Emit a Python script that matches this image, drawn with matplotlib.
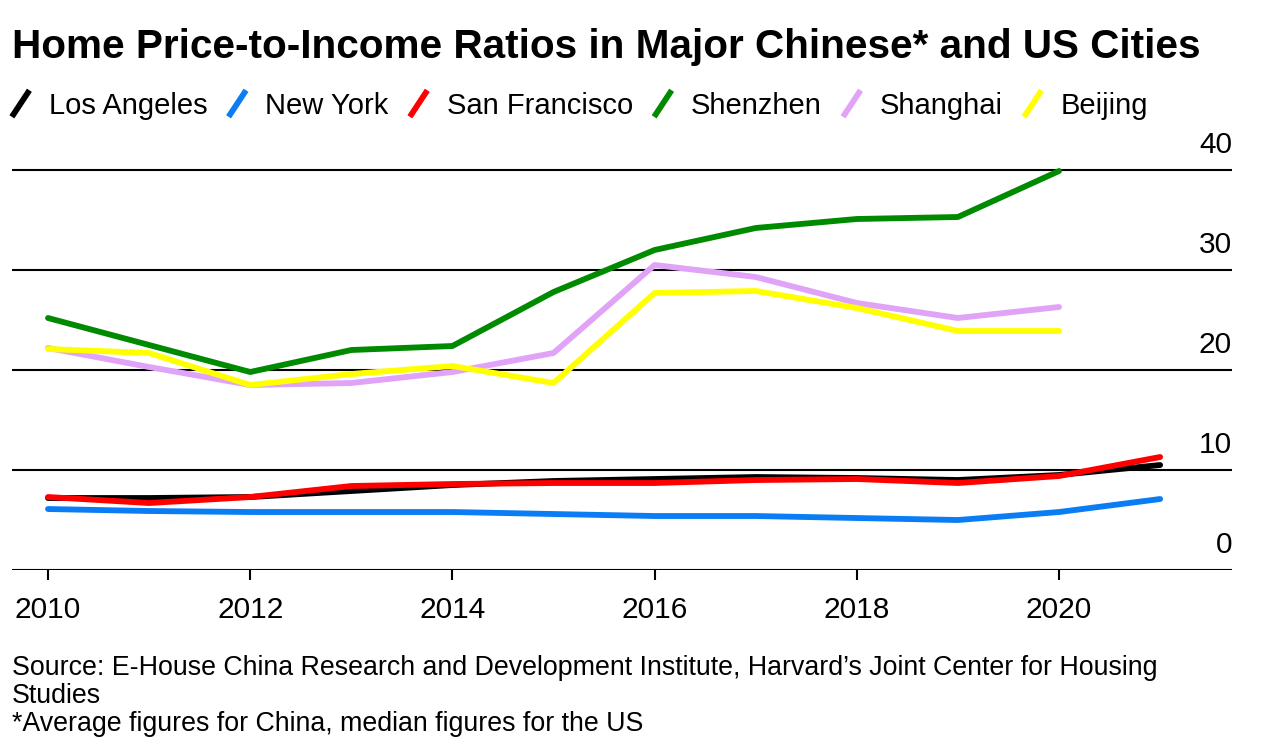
import numpy as np
import matplotlib
matplotlib.use("Agg")
import matplotlib.pyplot as plt
from matplotlib.legend_handler import HandlerLine2D
from matplotlib.lines import Line2D
from matplotlib.transforms import ScaledTranslation

plt.rcParams['font.family'] = ['Liberation Sans', 'DejaVu Sans']

# data
years_us = [2010, 2011, 2012, 2013, 2014, 2015, 2016, 2017, 2018, 2019, 2020, 2021]
years_cn = [2010, 2011, 2012, 2013, 2014, 2015, 2016, 2017, 2018, 2019, 2020]

los_angeles = [7.2, 7.2, 7.3, 7.9, 8.5, 8.9, 9.1, 9.3, 9.2, 9.0, 9.5, 10.5]
new_york = [6.1, 5.9, 5.8, 5.8, 5.8, 5.6, 5.4, 5.4, 5.2, 5.0, 5.8, 7.1]
san_francisco = [7.3, 6.7, 7.3, 8.4, 8.6, 8.7, 8.7, 9.0, 9.1, 8.7, 9.4, 11.3]
shenzhen = [25.2, 22.5, 19.8, 22.0, 22.4, 27.8, 32.0, 34.2, 35.1, 35.3, 39.9]
shanghai = [22.2, 20.3, 18.5, 18.7, 19.8, 21.7, 30.5, 29.3, 26.7, 25.2, 26.3]
beijing = [22.1, 21.7, 18.5, 19.6, 20.4, 18.7, 27.7, 27.9, 26.2, 23.9, 23.9]

yticks = [0, 10, 20, 30, 40]
xticks = [2010, 2012, 2014, 2016, 2018, 2020]


class SlashHandler(HandlerLine2D):
    # draws the legend key as a short slanted stroke
    def create_artists(self, legend, orig_handle, xdescent, ydescent,
                       width, height, fontsize, trans):
        ln = Line2D([-xdescent + width * 0.05, -xdescent + width * 0.85],
                    [-ydescent - height * 0.15, -ydescent + height * 1.15],
                    color=orig_handle.get_color(), lw=orig_handle.get_linewidth(),
                    solid_capstyle='butt')
        ln.set_transform(trans)
        return [ln]


fig = plt.figure(figsize=(12.64, 7.56), dpi=100)
ax = fig.add_axes([0.0095, 0.246, 0.9652, 0.5556])

lw = 4.2
ax.plot(years_us, los_angeles, color='black', lw=lw, label='Los Angeles', solid_capstyle='round')
ax.plot(years_us, new_york, color='#0a7df5', lw=lw, label='New York', solid_capstyle='round')
ax.plot(years_us, san_francisco, color='#ff0000', lw=lw, label='San Francisco', solid_capstyle='round')
ax.plot(years_cn, shenzhen, color='#008a00', lw=lw, label='Shenzhen', solid_capstyle='round')
ax.plot(years_cn, shanghai, color='#e0a3f7', lw=lw, label='Shanghai', solid_capstyle='round')
ax.plot(years_cn, beijing, color='#ffff00', lw=lw, label='Beijing', solid_capstyle='round')

for l in ax.get_lines():
    l.set_clip_on(False)

ax.set_xlim(2009.644, 2021.711)
ax.set_ylim(0, 42)

for v in yticks:
    ax.axhline(v, color='black', lw=1.5, zorder=0)

for s in ax.spines.values():
    s.set_visible(False)

ax.set_xticks(xticks)
ax.set_xticklabels([str(x) for x in xticks])
ax.tick_params(axis='x', length=7.5, width=1.5, pad=11, labelsize=21.5)

ax.set_yticks(yticks)
ax.yaxis.tick_right()
ax.tick_params(axis='y', length=0, pad=0, labelsize=21.5)
offset = ScaledTranslation(0, 8 / 72, fig.dpi_scale_trans)
for lab in ax.get_yticklabels():
    lab.set_horizontalalignment('right')
    lab.set_verticalalignment('bottom')
    lab.set_transform(lab.get_transform() + offset)

fig.text(0.0095, 0.938, 'Home Price-to-Income Ratios in Major Chinese* and US Cities',
         fontsize=29.2, fontweight='bold', va='center', ha='left')

leg = ax.legend(loc='lower left', bbox_to_anchor=(-0.001, 1.072), ncol=6, frameon=False,
                fontsize=21, handlelength=0.75, handletextpad=0.55, columnspacing=0.69,
                borderaxespad=0, borderpad=0,
                handler_map={Line2D: SlashHandler()})

fig.text(0.0095, 0.0795,
         'Source: E-House China Research and Development Institute, Harvard\u2019s Joint Center for Housing\nStudies\n*Average figures for China, median figures for the US',
         fontsize=19.3, va='center', ha='left', linespacing=1.11)

fig.savefig('out.png', dpi=100)
